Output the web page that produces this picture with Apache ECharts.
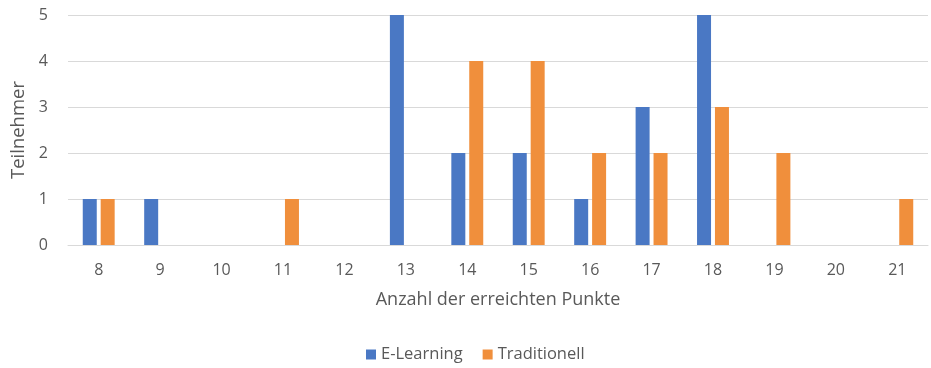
<!DOCTYPE html>
<html>
<head>
<meta charset="utf-8">
<script src="https://cdn.jsdelivr.net/npm/echarts@6/dist/echarts.min.js"></script>
<style>
  html, body { margin: 0; padding: 0; background: #ffffff; }
  #chart { width: 931px; height: 368px; }
</style>
</head>
<body>
<div id="chart"></div>
<script>
// Points reached (categories) and number of participants per group
const punkte = ['8', '9', '10', '11', '12', '13', '14', '15', '16', '17', '18', '19', '20', '21'];
const eLearning = [1, 1, 0, 0, 0, 5, 2, 2, 1, 3, 5, 0, 0, 0];
const traditionell = [1, 0, 0, 1, 0, 0, 4, 4, 2, 2, 3, 2, 0, 1];
const yTicks = [0, 1, 2, 3, 4, 5];

const textColor = '#595959';
const fontFamily = '"Open Sans", "Liberation Sans", sans-serif';

const chart = echarts.init(document.getElementById('chart'), null, { renderer: 'canvas' });
chart.setOption({
  animation: false,
  textStyle: { fontFamily: fontFamily, color: textColor },
  grid: { left: 68, right: 3, top: 15, bottom: 123 },
  legend: {
    bottom: 0,
    left: 361,
    itemWidth: 10,
    itemHeight: 10,
    itemGap: 20,
    icon: 'rect',
    textStyle: { color: textColor, fontSize: 16.5, fontFamily: fontFamily }
  },
  xAxis: {
    type: 'category',
    data: punkte,
    name: 'Anzahl der erreichten Punkte',
    nameLocation: 'middle',
    nameGap: 46,
    nameTextStyle: { color: textColor, fontSize: 18, fontFamily: fontFamily },
    axisLine: { show: true, lineStyle: { color: '#d9d9d9', width: 1 } },
    axisTick: { show: false },
    axisLabel: { color: textColor, fontSize: 16, margin: 17, fontFamily: fontFamily }
  },
  yAxis: {
    type: 'value',
    min: yTicks[0],
    max: yTicks[yTicks.length - 1],
    interval: 1,
    name: 'Teilnehmer',
    nameLocation: 'middle',
    nameGap: 37,
    nameRotate: 90,
    nameTextStyle: { color: textColor, fontSize: 18.5, fontFamily: fontFamily },
    axisLine: { show: false },
    axisTick: { show: false },
    splitLine: { lineStyle: { color: '#d9d9d9', width: 1 } },
    axisLabel: { color: textColor, fontSize: 16, margin: 20, fontFamily: fontFamily }
  },
  series: [
    {
      name: 'E-Learning',
      type: 'bar',
      data: eLearning,
      barWidth: 14,
      barGap: '28%',
      itemStyle: { color: '#4a78c4' }
    },
    {
      name: 'Traditionell',
      type: 'bar',
      data: traditionell,
      barWidth: 14,
      barGap: '28%',
      itemStyle: { color: '#f08f3c' }
    }
  ]
});
</script>
</body>
</html>
